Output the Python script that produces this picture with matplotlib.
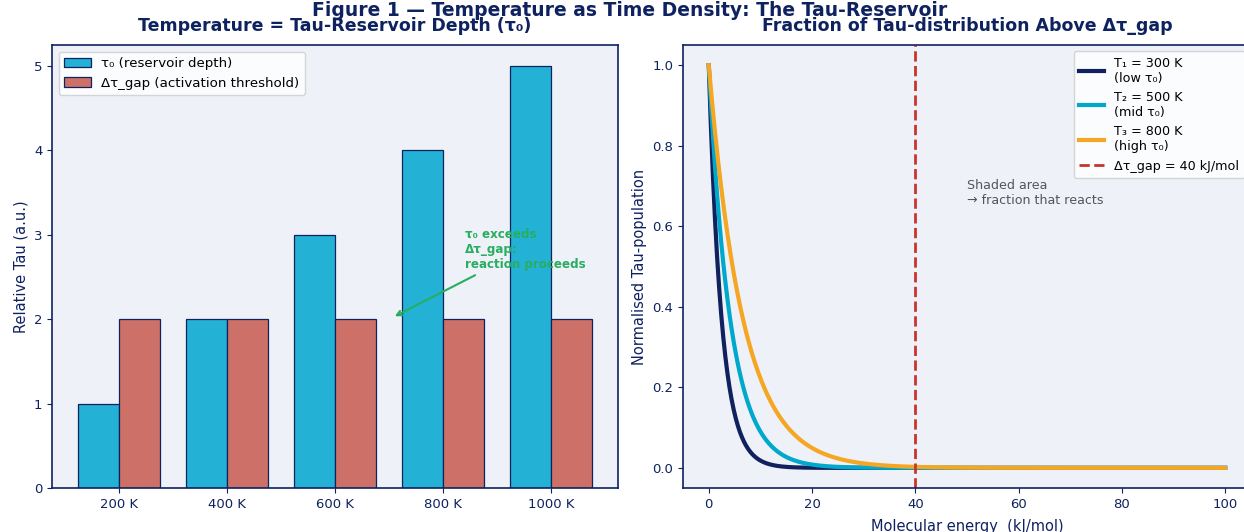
import numpy as np
import matplotlib
matplotlib.use("Agg")
import matplotlib.pyplot as plt

# data
temps_lbl = ["200 K", "400 K", "600 K", "800 K", "1000 K"]
tau0 = [1, 2, 3, 4, 5]
tau_gap = [2, 2, 2, 2, 2]

curve_T = [300, 500, 800]          # K
curve_lbl = ["T\u2081 = 300 K\n(low \u03c4\u2080)",
             "T\u2082 = 500 K\n(mid \u03c4\u2080)",
             "T\u2083 = 800 K\n(high \u03c4\u2080)"]
R_kj = 8.314e-3                    # kJ/(mol K)
gap_E = 40                         # kJ/mol

NAVY = "#0f2260"
FACE = "#eef2f8"
CYAN_BAR = "#23b2d5"
RED_BAR = "#cd7068"
curve_cols = ["#10215e", "#00a8cc", "#f5a623"]
GAP_RED = "#c8352b"
GREEN = "#27ae60"

plt.rcParams["font.family"] = ["DejaVu Sans"]

fig = plt.figure(figsize=(12.44, 5.32), dpi=100)
ax1 = fig.add_axes([0.0418, 0.0827, 0.455, 0.8327])
ax2 = fig.add_axes([0.549, 0.0827, 0.4566, 0.8327])

for ax in (ax1, ax2):
    ax.set_facecolor(FACE)
    for s in ax.spines.values():
        s.set_color(NAVY)
        s.set_linewidth(1.2)
    ax.tick_params(colors=NAVY, labelsize=9.5)

# left panel - bars
x = np.arange(len(temps_lbl))
w = 0.38
ax1.bar(x - w / 2, tau0, w, color=CYAN_BAR, edgecolor=NAVY, linewidth=0.9,
        label="\u03c4\u2080 (reservoir depth)")
ax1.bar(x + w / 2, tau_gap, w, color=RED_BAR, edgecolor=NAVY, linewidth=0.9,
        label="\u0394\u03c4_gap (activation threshold)")
ax1.set_xticks(x)
ax1.set_xticklabels(temps_lbl)
ax1.set_ylim(0, 5.25)
ax1.set_ylabel("Relative Tau (a.u.)", color=NAVY, fontsize=10.5)
ax1.set_title("Temperature = Tau-Reservoir Depth (\u03c4\u2080)", color=NAVY,
              fontsize=12.5, fontweight="bold", pad=10)
ax1.legend(loc="upper left", fontsize=9.6)
ax1.annotate("\u03c4\u2080 exceeds\n\u0394\u03c4_gap:\nreaction proceeds",
             xy=(2.53, 2.02), xytext=(3.2, 2.57), va="bottom", ha="left",
             color=GREEN, fontsize=8.6, fontweight="bold",
             arrowprops=dict(arrowstyle="->", color=GREEN, lw=1.5))

# right panel - population above gap
E = np.linspace(0, 100, 500)
for T, lbl, c in zip(curve_T, curve_lbl, curve_cols):
    ax2.plot(E, np.exp(-E / (R_kj * T)), color=c, lw=3, label=lbl)
ax2.axvline(gap_E, color=GAP_RED, ls="--", lw=2,
            label=f"\u0394\u03c4_gap = {gap_E} kJ/mol")
ax2.text(50, 0.648, "Shaded area\n\u2192 fraction that reacts", color="#555555",
         fontsize=9.1, va="bottom")
ax2.set_xlim(-5, 105)
ax2.set_ylim(-0.05, 1.05)
ax2.set_xlabel("Molecular energy  (kJ/mol)", color=NAVY, fontsize=10.5,
               labelpad=6)
ax2.set_ylabel("Normalised Tau-population", color=NAVY, fontsize=10.5)
ax2.set_title("Fraction of Tau-distribution Above \u0394\u03c4_gap", color=NAVY,
              fontsize=12.5, fontweight="bold", pad=10)
ax2.legend(loc="upper right", fontsize=9.2)

fig.suptitle("Figure 1 \u2014 Temperature as Time Density: The Tau-Reservoir",
             x=0.506, y=1 - 16 / 532, va="baseline", color=NAVY, fontsize=13.5,
             fontweight="bold")

fig.savefig("out.png", dpi=100)
